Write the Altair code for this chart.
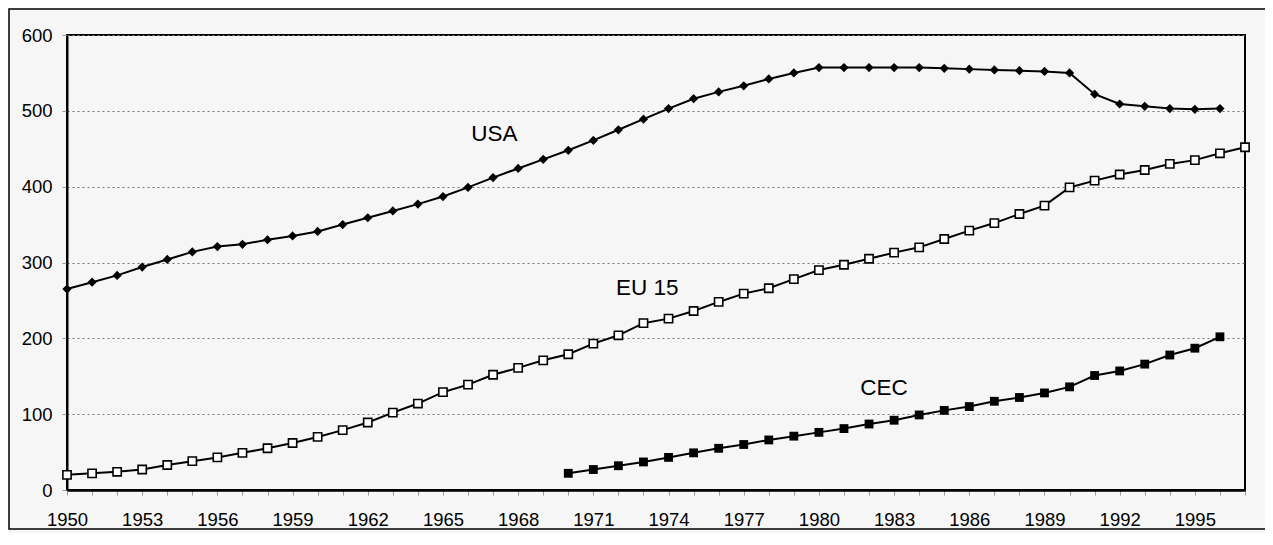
import altair as alt
import pandas as pd

# ---- data ----
usa_years = list(range(1950, 1997))
usa_values = [265, 274, 283, 294, 304, 314, 321, 324, 330, 335,
              341, 350, 359, 368, 377, 387, 399, 412, 424, 436,
              448, 461, 475, 489, 503, 516, 525, 533, 542, 550,
              557, 557, 557, 557, 557, 556, 555, 554, 553, 552,
              550, 522, 509, 506, 503, 502, 503]

eu_years = list(range(1950, 1998))
eu_values = [20, 22, 24, 27, 33, 38, 43, 49, 55, 62,
             70, 79, 89, 102, 114, 129, 139, 152, 161, 171,
             179, 193, 204, 220, 226, 236, 248, 259, 266, 278,
             290, 297, 305, 313, 320, 331, 342, 352, 364, 375,
             399, 408, 416, 422, 430, 435, 444, 452]

cec_years = list(range(1970, 1997))
cec_values = [22, 27, 32, 37, 43, 49, 55, 60, 66, 71,
              76, 81, 87, 92, 99, 105, 110, 117, 122, 128,
              136, 151, 157, 166, 178, 187, 202]

label_text = ["USA", "EU 15", "CEC"]
label_year = [1967.05, 1973.15, 1982.6]
label_value = [469, 266, 135]

tick_years = list(range(1950, 1998))
y_ticks = [0, 100, 200, 300, 400, 500, 600]

FONT = "Liberation Sans"

usa_df = pd.DataFrame({"year": usa_years, "value": usa_values})
eu_df = pd.DataFrame({"year": eu_years, "value": eu_values})
cec_df = pd.DataFrame({"year": cec_years, "value": cec_values})
lab_df = pd.DataFrame({"text": label_text, "year": label_year, "value": label_value})

xscale = alt.Scale(domain=[1950, 1997], nice=False, zero=False)
yscale = alt.Scale(domain=[0, 600], nice=False)

xaxis = alt.Axis(
    values=tick_years,
    labelExpr="(datum.value - 1950) % 3 == 0 ? datum.value : ''",
    labelFlush=False, labelOverlap=False,
    title=None, grid=False,
    tickSize=5, tickColor="#999999", tickWidth=1,
    labelPadding=15, labelFontSize=18.5, labelFont=FONT, labelColor="#000000",
    domainColor="#000000", domainWidth=2.5,
)
yaxis = alt.Axis(
    values=y_ticks,
    title=None, grid=True, gridColor="#777777", gridDash=[2, 3], gridWidth=1,
    tickSize=5, tickColor="#999999", labelPadding=10,
    labelFontSize=18.5, labelFont=FONT, labelColor="#000000",
    domainColor="#000000", domainWidth=2,
)

X = alt.X("year:Q", scale=xscale, axis=xaxis)
Y = alt.Y("value:Q", scale=yscale, axis=yaxis)

usa_line = alt.Chart(usa_df).mark_line(color="black", strokeWidth=2).encode(x=X, y=Y)
usa_pts = alt.Chart(usa_df).mark_point(shape="diamond", filled=True, color="black", size=85, opacity=1).encode(x=X, y=Y)

eu_line = alt.Chart(eu_df).mark_line(color="black", strokeWidth=2).encode(x=X, y=Y)
eu_pts = alt.Chart(eu_df).mark_point(shape="square", filled=True, fill="white", stroke="black",
                                     strokeWidth=1.6, size=68, opacity=1).encode(x=X, y=Y)

cec_line = alt.Chart(cec_df).mark_line(color="black", strokeWidth=2).encode(x=X, y=Y)
cec_pts = alt.Chart(cec_df).mark_point(shape="square", filled=True, color="black", size=78, opacity=1).encode(x=X, y=Y)

labels = alt.Chart(lab_df).mark_text(font=FONT, fontSize=22.5, color="#000000",
                                     align="center", baseline="middle").encode(
    x=X, y=Y, text="text:N")

frame = alt.Chart(pd.DataFrame({"k": [0]})).mark_rect(
    fill=None, stroke="black", strokeWidth=1.5
).encode(x=alt.value(-58), x2=alt.value(1210), y=alt.value(-26), y2=alt.value(494))

chart = alt.layer(
    usa_line, eu_line, cec_line, usa_pts, eu_pts, cec_pts, labels, frame
).properties(
    width=1178, height=455,
    autosize=alt.AutoSizeParams(type="none"),
    padding={"left": 59, "top": 27, "right": 20, "bottom": 43},
    background="#f6f6f6",
).configure_view(stroke="black", strokeWidth=2)

chart.save("out.html", embed_options={"renderer": "svg", "actions": False})
